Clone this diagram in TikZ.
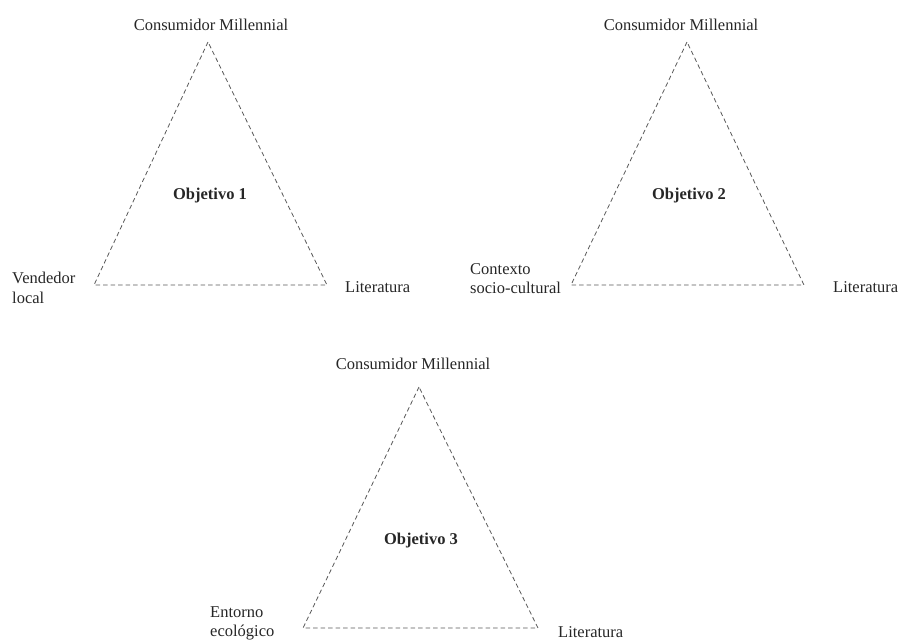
\documentclass[tikz,border=0pt]{standalone}
\usepackage{fontspec}
\setmainfont{Liberation Serif}
\begin{document}
\begin{tikzpicture}[x=1pt,y=-1pt,
  lbl/.style={inner sep=0pt,text=black!85,font=\fontsize{16.5}{19.8}\selectfont},
  obj/.style={lbl,font=\fontsize{16.5}{19.8}\selectfont\bfseries},
  tri/.style={draw=black!65,line width=0.8pt,dash pattern=on 4.5pt off 3pt,line join=round}]
\useasboundingbox (0,0) rectangle (901,641);
% Triangle 1
\coordinate (A1) at (208,42);
\coordinate (B1) at (94,285);
\coordinate (C1) at (327,285);
\draw[tri] (A1) -- (B1) -- (C1) -- cycle;
\node[lbl,anchor=base] (t1) at (211,30) {Consumidor Millennial};
\node[obj,anchor=base] (o1) at (210,199) {Objetivo 1};
\node[lbl,anchor=north west,align=left] (l1) at (12,272) {Vendedor\\local};
\node[lbl,anchor=base west] (r1) at (345,292) {Literatura};
% Triangle 2
\coordinate (A2) at (687,42);
\coordinate (B2) at (571,285);
\coordinate (C2) at (804,285);
\draw[tri] (A2) -- (B2) -- (C2) -- cycle;
\node[lbl,anchor=base] (t2) at (681,30) {Consumidor Millennial};
\node[obj,anchor=base] (o2) at (689,199) {Objetivo 2};
\node[lbl,anchor=north west,align=left] (l2) at (470,263) {Contexto\\socio-cultural};
\node[lbl,anchor=base west] (r2) at (833,292) {Literatura};
% Triangle 3
\coordinate (A3) at (419,387);
\coordinate (B3) at (303,628);
\coordinate (C3) at (538,628);
\draw[tri] (A3) -- (B3) -- (C3) -- cycle;
\node[lbl,anchor=base] (t3) at (413,369) {Consumidor Millennial};
\node[obj,anchor=base] (o3) at (421,544) {Objetivo 3};
\node[lbl,anchor=north west,align=left] (l3) at (210,606) {Entorno\\ecológico};
\node[lbl,anchor=base west] (r3) at (558,637) {Literatura};
\end{tikzpicture}
\end{document}
